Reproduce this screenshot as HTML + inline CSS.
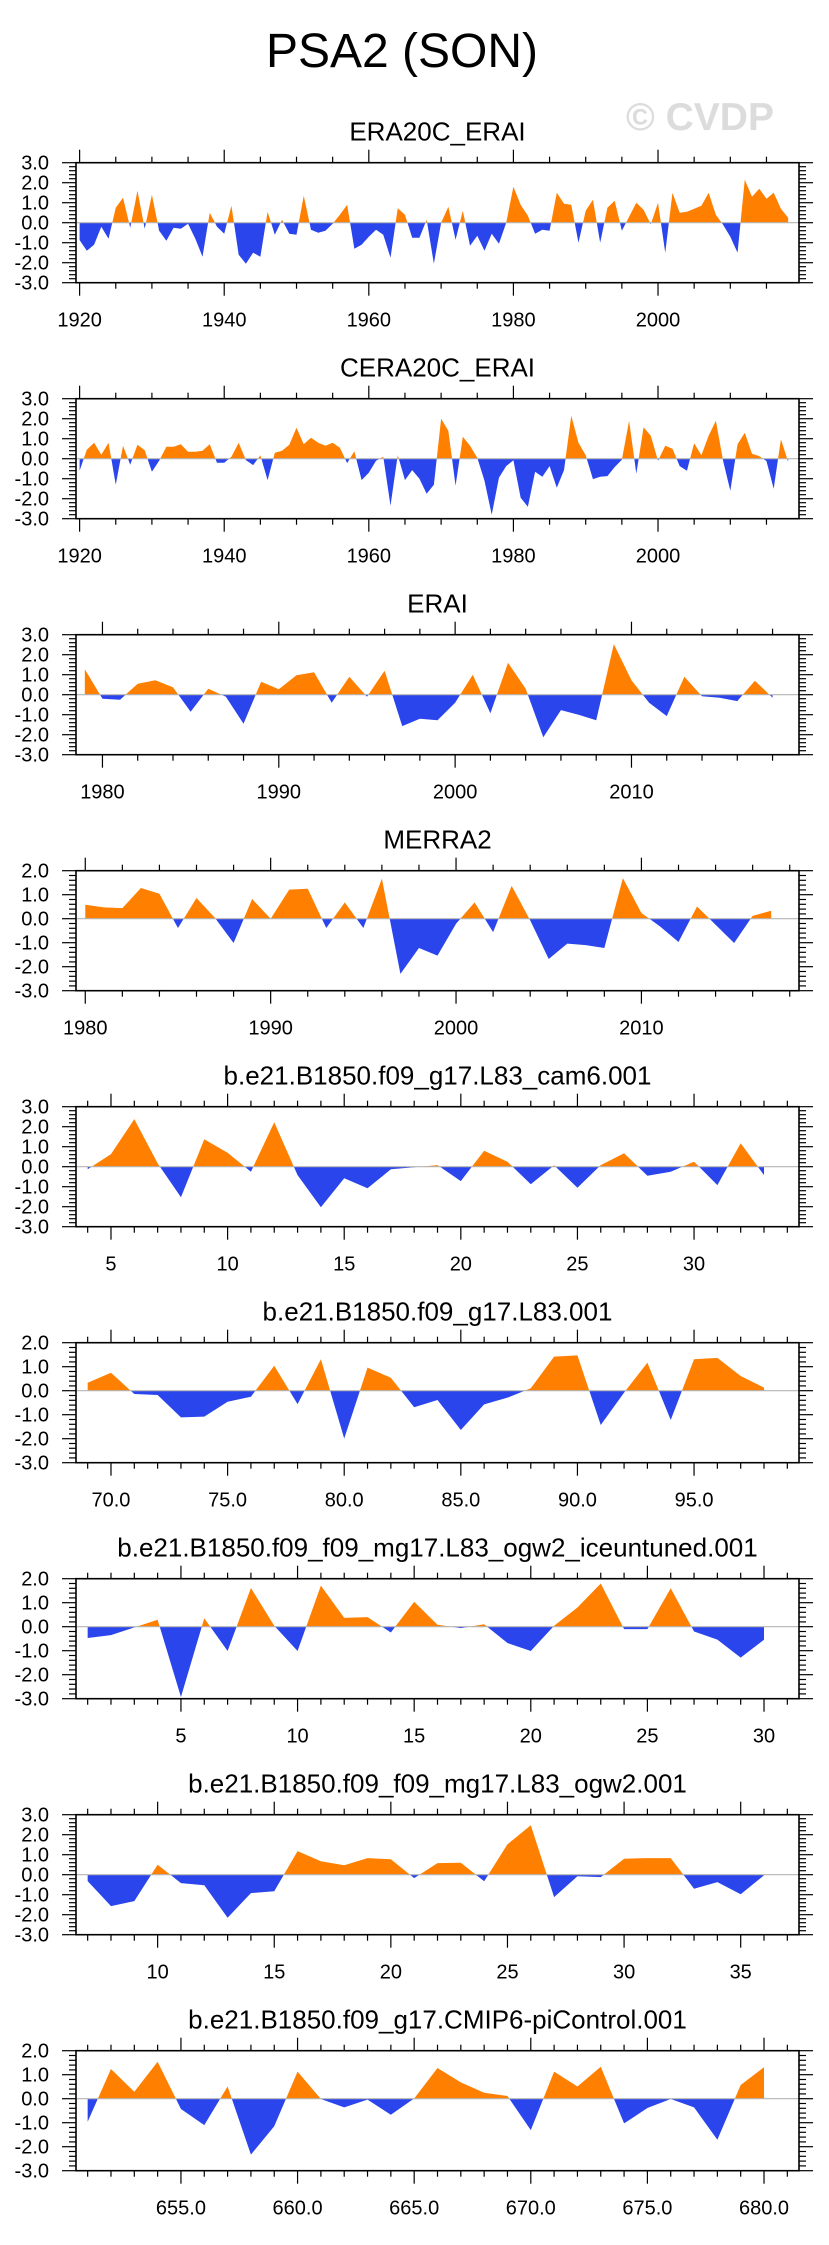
<!DOCTYPE html>
<html><head><meta charset="utf-8"><style>
html,body{margin:0;padding:0;background:#fff;}
svg{display:block;font-family:"Liberation Sans",sans-serif;}
</style></head><body>
<svg id="chart" width="829" height="2245" viewBox="0 0 829 2245" xmlns="http://www.w3.org/2000/svg">
<text x="402" y="67" font-size="48" text-anchor="middle" fill="#000">PSA2 (SON)</text>
<text x="700" y="130" font-size="39" font-weight="bold" text-anchor="middle" fill="#dcdcdc">© CVDP</text>
</svg>
<script>
const titles = ["ERA20C_ERAI","CERA20C_ERAI","ERAI","MERRA2","b.e21.B1850.f09_g17.L83_cam6.001","b.e21.B1850.f09_g17.L83.001","b.e21.B1850.f09_f09_mg17.L83_ogw2_iceuntuned.001","b.e21.B1850.f09_f09_mg17.L83_ogw2.001","b.e21.B1850.f09_g17.CMIP6-piControl.001"];
const xStarts = [1920,1920,1979,1980,4,69,1,7,651];
const yMaxs = [3,3,3,2,3,2,2,3,2];
const yMins = [-3,-3,-3,-3,-3,-3,-3,-3,-3];
const v1 = [-0.87,-1.4,-1.1,-0.2,-0.8,0.75,1.25,-0.25,1.6,-0.3,1.4,-0.4,-0.9,-0.25,-0.3,-0.05,-0.8,-1.7,0.5,-0.2,-0.55,0.85,-1.6,-2.05,-1.5,-1.7,0.55,-0.6,0.15,-0.55,-0.6,1.35,-0.35,-0.5,-0.4,-0.05,0.4,0.9,-1.3,-1.1,-0.7,-0.35,-0.6,-1.75,0.72,0.4,-0.75,-0.75,0.15,-2.05,0,0.8,-0.85,0.6,-1.15,-0.65,-1.4,-0.55,-1.05,0,1.8,0.9,0.35,-0.55,-0.35,-0.4,1.5,0.95,0.9,-1.0,0.6,1.15,-1.0,0.75,1.1,-0.4,0.3,1.0,0.65,-0.08,1.0,-1.5,1.5,0.5,0.55,0.7,0.85,1.5,0.4,-0.1,-0.7,-1.5,2.15,1.3,1.7,1.2,1.5,0.7,0.25];
const v2 = [-0.6,0.45,0.8,0.2,0.8,-1.3,0.65,-0.3,0.7,0.42,-0.65,-0.1,0.6,0.6,0.72,0.35,0.35,0.4,0.72,-0.2,-0.2,0.1,0.8,-0.07,-0.32,0.17,-1.07,0.3,0.4,0.7,1.55,0.72,1.05,0.8,0.65,0.8,0.55,-0.22,0.37,-1.07,-0.7,-0.1,0.1,-2.35,0.18,-1.07,-0.57,-1.0,-1.75,-1.3,2.0,1.4,-1.35,1.1,0.65,0.05,-1.1,-2.8,-0.95,-0.37,-0.08,-1.95,-2.4,-0.65,-0.9,-0.37,-1.45,-0.57,2.15,0.8,0.17,-1.02,-0.9,-0.87,-0.42,-0.05,1.9,-0.75,1.57,1.15,-0.1,0.65,0.5,-0.37,-0.6,0.77,0.17,1.15,1.9,-0.1,-1.6,0.72,1.3,0.25,0.13,-0.12,-1.5,0.97,-0.15];
const v3 = [1.27,-0.2,-0.25,0.55,0.72,0.37,-0.85,0.3,-0.1,-1.45,0.65,0.27,0.97,1.12,-0.4,0.9,-0.1,1.2,-1.57,-1.2,-1.28,-0.4,1.0,-0.93,1.6,0.3,-2.13,-0.77,-1.0,-1.28,2.53,0.72,-0.4,-1.07,0.9,-0.08,-0.15,-0.32,0.7,-0.15];
const v4 = [0.58,0.47,0.44,1.28,1.04,-0.39,0.86,0.03,-1.01,0.82,0.0,1.21,1.25,-0.39,0.68,-0.39,1.67,-2.3,-1.22,-1.54,-0.21,0.68,-0.56,1.37,-0.07,-1.68,-1.04,-1.1,-1.22,1.69,0.24,-0.32,-0.97,0.51,-0.25,-1.01,0.12,0.33];
const v5 = [-0.13,0.63,2.38,0.17,-1.53,1.37,0.7,-0.25,2.22,-0.42,-2.03,-0.58,-1.08,-0.13,-0.03,0.08,-0.72,0.8,0.25,-0.88,0.07,-1.05,0.08,0.67,-0.45,-0.25,0.25,-0.92,1.17,-0.42];
const v6 = [0.33,0.75,-0.14,-0.18,-1.11,-1.08,-0.46,-0.25,1.04,-0.56,1.31,-1.99,0.96,0.54,-0.69,-0.39,-1.64,-0.57,-0.29,0.1,1.42,1.47,-1.43,-0.08,1.17,-1.22,1.31,1.37,0.61,0.13];
const v7 = [-0.47,-0.35,-0.03,0.29,-2.93,0.35,-1.01,1.61,0.04,-1.01,1.71,0.37,0.4,-0.24,1.04,0.08,-0.06,0.1,-0.68,-1.01,0.04,0.8,1.8,-0.1,-0.1,1.6,-0.2,-0.54,-1.29,-0.54];
const v8 = [-0.32,-1.57,-1.32,0.5,-0.42,-0.53,-2.15,-0.92,-0.83,1.18,0.67,0.47,0.83,0.77,-0.17,0.58,0.6,-0.33,1.52,2.47,-1.12,-0.08,-0.12,0.8,0.83,0.83,-0.7,-0.37,-0.98,-0.03];
const v9 = [-0.96,1.24,0.29,1.54,-0.43,-1.1,0.51,-2.33,-1.15,1.13,-0.01,-0.36,-0.04,-0.67,0.01,1.28,0.68,0.25,0.11,-1.31,1.13,0.51,1.33,-1.03,-0.39,-0.01,-0.36,-1.71,0.57,1.31];
const t1 = [1920,1940,1960,1980,2000];
const t2 = [1920,1940,1960,1980,2000];
const t3 = [1980,1990,2000,2010];
const t4 = [1980,1990,2000,2010];
const t5 = [5,10,15,20,25,30];
const t6 = [70,75,80,85,90,95];
const t7 = [5,10,15,20,25,30];
const t8 = [10,15,20,25,30,35];
const t9 = [655,660,665,670,675,680];
const tl1 = ["1920","1940","1960","1980","2000"];
const tl2 = ["1920","1940","1960","1980","2000"];
const tl3 = ["1980","1990","2000","2010"];
const tl4 = ["1980","1990","2000","2010"];
const tl5 = ["5","10","15","20","25","30"];
const tl6 = ["70.0","75.0","80.0","85.0","90.0","95.0"];
const tl7 = ["5","10","15","20","25","30"];
const tl8 = ["10","15","20","25","30","35"];
const tl9 = ["655.0","660.0","665.0","670.0","675.0","680.0"];
const yTickLabels = ["-3.0","-2.0","-1.0","0.0","1.0","2.0","3.0"];

const values=[v1,v2,v3,v4,v5,v6,v7,v8,v9];
const ticks=[t1,t2,t3,t4,t5,t6,t7,t8,t9];
const tickLabels=[tl1,tl2,tl3,tl4,tl5,tl6,tl7,tl8,tl9];
const minorSteps=[5,5,2,2,1,1,1,1,1];

const NS="http://www.w3.org/2000/svg";
const svg=document.getElementById('chart');
function mk(tag,attrs,parent){const e=document.createElementNS(NS,tag);for(const k in attrs)e.setAttribute(k,attrs[k]);(parent||svg).appendChild(e);return e;}

const L=76,R=799,H=120;
for(let p=0;p<9;p++){
  const top=162.7+236*p, bot=top+H;
  const vals=values[p], x0=xStarts[p], n=vals.length;
  const d0=x0-0.5, d1=x0+n-1+1.5;
  const ymax=yMaxs[p], ymin=yMins[p];
  const sx=v=>L+(v-d0)/(d1-d0)*(R-L);
  const sy=v=>top+(ymax-v)/(ymax-ymin)*H;
  const g=mk('g',{});
  
  
  const t=mk('text',{x:(L+R)/2,y:top-22,'font-size':26,'text-anchor':'middle',fill:'#000'},g);
  
  
  t.textContent=titles[p];
  const defs=mk('defs',{},g);
  const ca=mk('clipPath',{id:'ca'+p},defs);
  mk('rect',{x:L,y:top,width:R-L,height:sy(0)-top},ca);
  const cb=mk('clipPath',{id:'cb'+p},defs);
  mk('rect',{x:L,y:sy(0),width:R-L,height:bot-sy(0)},cb);
  let d='M'+sx(x0)+','+sy(0);
  for(let i=0;i<n;i++) d+=' L'+sx(x0+i).toFixed(2)+','+sy(vals[i]).toFixed(2);
  d+=' L'+sx(x0+n-1)+','+sy(0)+' Z';
  const pa=mk('path',{d:d,fill:'#ff8000','clip-path':'url(#ca'+p+')'},g);
  
  
  const pb=mk('path',{d:d,fill:'#2a45ec','clip-path':'url(#cb'+p+')'},g);
  
  
  const zl=mk('line',{x1:L,x2:R,y1:sy(0),y2:sy(0),stroke:'#b4b4b4','stroke-width':1.2},g);
  
  
  const box=mk('rect',{x:L,y:top,width:R-L,height:H,fill:'none',stroke:'#000','stroke-width':1.6},g);
  
  
  const ms=minorSteps[p];
  const majors=ticks[p];
  const tg=mk('g',{stroke:'#000','stroke-width':1.2},g);
  
  
  for(let v=Math.ceil(d0/ms)*ms; v<=d1; v+=ms){
    const isMaj=majors.includes(v);
    const len=isMaj?13:6, X=sx(v);
    mk('line',{x1:X,x2:X,y1:top,y2:top-len},tg);
    mk('line',{x1:X,x2:X,y1:bot,y2:bot+len},tg);
  }
  for(let i=0;i<majors.length;i++){
    const lb=mk('text',{x:sx(majors[i]),y:top+164,'font-size':20,'text-anchor':'middle',fill:'#000'},g);
    
    
    lb.textContent=tickLabels[p][i];
  }
  const yg=mk('g',{stroke:'#000','stroke-width':1.2},g);
  
  
  for(let k=Math.round(ymin*5);k<=Math.round(ymax*5);k++){
    const v=k/5, Y=sy(v), isMaj=(k%5===0), len=isMaj?14:7;
    mk('line',{x1:L,x2:L-len,y1:Y,y2:Y},yg);
    mk('line',{x1:R,x2:R+len,y1:Y,y2:Y},yg);
  }
  for(let v=ymin;v<=ymax;v++){
    const lb=mk('text',{x:49,y:sy(v)+7,'font-size':20,'text-anchor':'end',fill:'#000'},g);
    
    
    lb.textContent=yTickLabels[v+3];
  }
}
</script>
</body></html>
